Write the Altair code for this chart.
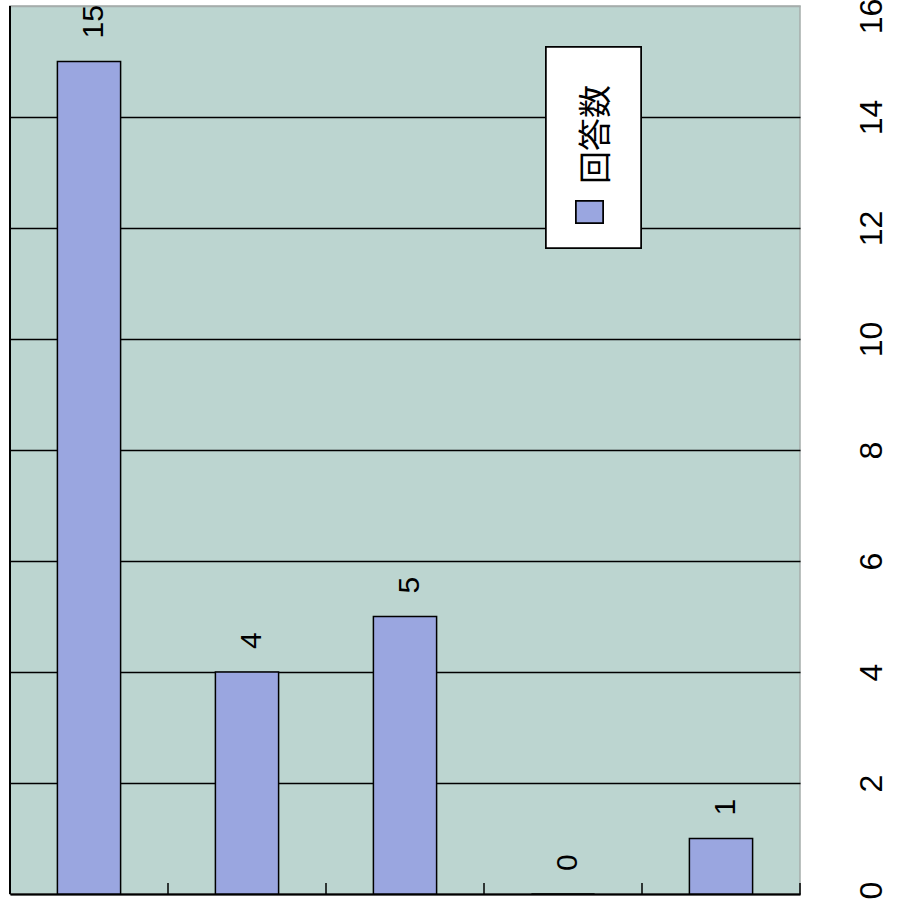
import altair as alt
import pandas as pd

categories = ["A", "B", "C", "D", "E"]
counts = [15, 4, 5, 0, 1]
y_ticks = [0, 2, 4, 6, 8, 10, 12, 14, 16]
legend_label = "回答数"

df = pd.DataFrame({"cat": categories, "count": counts})

W, H = 790, 888
BAR = "#9aa6e0"
BG = "#bcd5d0"

xenc = alt.X("cat:N", sort=categories,
             scale=alt.Scale(paddingInner=0, paddingOuter=0),
             axis=alt.Axis(title=None, labels=False, ticks=False,
                           domainColor="black", domainWidth=2))
yscale = alt.Scale(domain=[0, 16], nice=False)

base = alt.Chart(df)

bars = base.mark_bar(width=alt.RelativeBandSize(0.4), fill=BAR,
                     stroke="black", strokeWidth=1.5).encode(
    x=xenc,
    y=alt.Y("count:Q", scale=yscale,
            axis=alt.Axis(title=None, orient="right", values=y_ticks,
                          format="d",
                          ticks=False, domain=False,
                          labelAngle=270, labelAlign="center",
                          labelBaseline="top", labelPadding=56,
                          labelOverlap=False,
                          labelOffset={"condition": [
                              {"test": "datum.value == 16", "value": 10},
                              {"test": "datum.value == 0", "value": -4}],
                              "value": 0},
                          labelFont="Liberation Sans", labelFontSize=32,
                          labelColor="black",
                          gridColor=alt.condition("datum.value == 16",
                                                  alt.value("#a5adab"),
                                                  alt.value("black")),
                          gridWidth=1.5, gridOpacity=1)),
)

labels = base.mark_text(angle=270, align="left", baseline="middle",
                        dx=23, dy=5, font="Liberation Sans", fontSize=30,
                        color="black").encode(
    x=alt.X("cat:N", sort=categories),
    y=alt.Y("count:Q", scale=yscale),
    text="count:Q",
)

cat_ticks = base.mark_rule(color="black", strokeWidth=1.5).encode(
    x=alt.X("cat:N", sort=categories, bandPosition=1),
    y=alt.value(H),
    y2=alt.value(H - 11),
)

left_line = base.mark_rule(color="black", strokeWidth=2).encode(
    x=alt.value(0), y=alt.value(0), y2=alt.value(H)
)

legend_box = base.mark_rect(fill="white", stroke="black",
                            strokeWidth=1.5).encode(
    x=alt.value(536), x2=alt.value(631), y=alt.value(41), y2=alt.value(242)
)
legend_sym = base.mark_rect(fill=BAR, stroke="black",
                            strokeWidth=1.5).encode(
    x=alt.value(566), x2=alt.value(593), y=alt.value(195), y2=alt.value(217)
)
legend_text = alt.Chart(pd.DataFrame({"t": [legend_label]})).mark_text(
    angle=270, align="left", baseline="middle",
    font="Noto Sans CJK JP", fontSize=33, color="black").encode(
    x=alt.value(587), y=alt.value(178), text="t:N"
)

chart = alt.layer(bars, labels, cat_ticks, left_line,
                  legend_box, legend_sym, legend_text).properties(
    width=W, height=H,
    background="white",
    padding={"left": 10, "top": 6, "right": 97, "bottom": 7},
    autosize=alt.AutoSizeParams(type="none"),
).configure_view(fill=BG, stroke="#a5adab", strokeWidth=1.5)

chart.save("out.html", embed_options={"renderer": "svg", "actions": False})
